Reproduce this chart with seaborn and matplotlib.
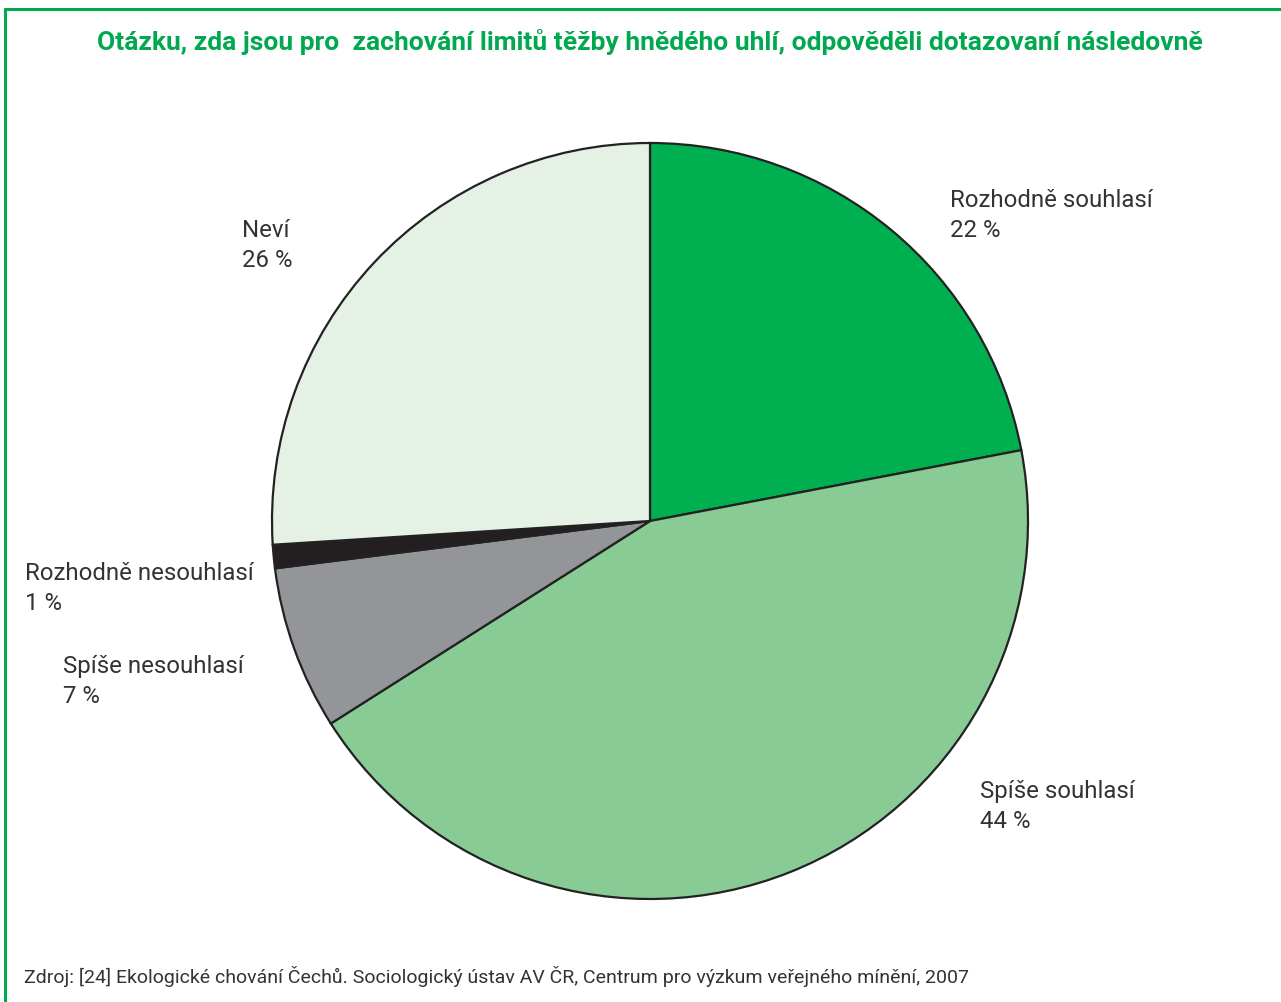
import matplotlib
matplotlib.use("Agg")
import matplotlib.pyplot as plt
import seaborn as sns
from matplotlib.lines import Line2D

# answers, clockwise from the top
categories = ["Rozhodně souhlasí", "Spíše souhlasí", "Spíše nesouhlasí",
              "Rozhodně nesouhlasí", "Neví"]
shares = [22, 44, 7, 1, 26]
slice_colors = ["#00b050", "#88cb94", "#939598", "#231f20", "#e6f1e6"]

title = "Otázku, zda jsou pro  zachování limitů těžby hnědého uhlí, odpověděli dotazovaní následovně"
source = ("Zdroj: [24] Ekologické chování Čechů. Sociologický ústav AV ČR, "
          "Centrum pro výzkum veřejného mínění, 2007")

# label anchor (left, top) in pixels of the 1281x1003 image
label_pos = {
    "Rozhodně souhlasí": (950, 189),
    "Spíše souhlasí": (980, 780),
    "Spíše nesouhlasí": (63, 655),
    "Rozhodně nesouhlasí": (25, 562),
    "Neví": (242, 219),
}

W, H = 1281, 1003
sns.set_theme(style="white")
plt.rcParams["font.family"] = ["Roboto", "DejaVu Sans"]

fig = plt.figure(figsize=(W / 100, H / 100), dpi=100)

# pie sits in a square axes centred on (650, 522) px, radius 378 px
cx, cy, r = 650, 522, 378
pad = 1.01
half = r * pad
ax = fig.add_axes([(cx - half) / W, 1 - (cy + half) / H, 2 * half / W, 2 * half / H])
ax.pie(shares, colors=slice_colors, startangle=90, counterclock=False,
       radius=1, wedgeprops=dict(edgecolor="#222222", linewidth=1.6))
ax.set_xlim(-pad, pad)
ax.set_ylim(-pad, pad)
ax.set_aspect("equal")
ax.axis("off")

for name, val in zip(categories, shares):
    x, y = label_pos[name]
    fig.text(x / W, 1 - y / H, f"{name}\n{val} %", ha="left", va="top",
             fontsize=17.3, color="#333333", linespacing=1.4)

fig.text(650 / W, 1 - 42 / H, title, ha="center", va="center",
         fontsize=19, fontweight="bold", color="#00a84f")
fig.text(24 / W, 1 - 977 / H, source, ha="left", va="center",
         fontsize=14, color="#333333")

# green frame (top and left edges)
frame = "#00a84f"
fig.add_artist(Line2D([5 / W, 1], [1 - 10 / H, 1 - 10 / H], color=frame, lw=2.2,
                      transform=fig.transFigure))
fig.add_artist(Line2D([5 / W, 5 / W], [0, 1 - 10 / H], color=frame, lw=2.2,
                      transform=fig.transFigure))

fig.savefig("out.png", dpi=100)
